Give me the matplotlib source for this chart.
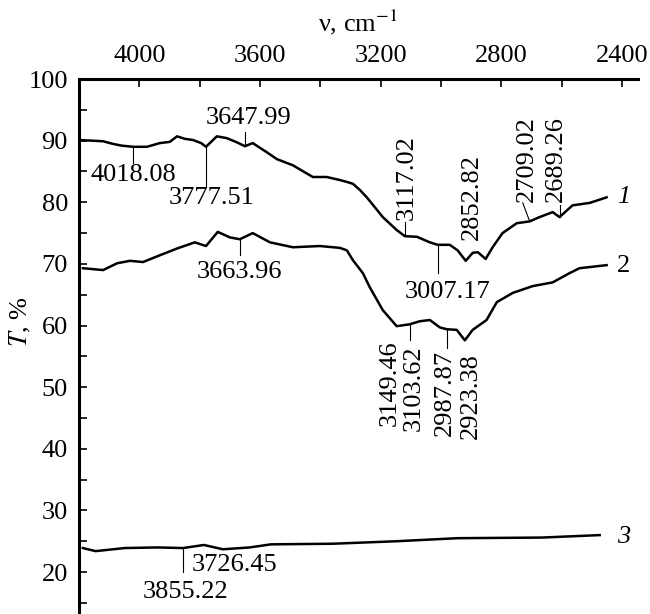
import numpy as np
import matplotlib
matplotlib.use('Agg')
import matplotlib.pyplot as plt
from matplotlib.ticker import MultipleLocator

plt.rcParams['font.family'] = ['Liberation Serif', 'DejaVu Serif']
plt.rcParams['mathtext.fontset'] = 'stix'

# curve 1
wn1 = [4197, 4160, 4120, 4090, 4060, 4021, 3975, 3932, 3899, 3875, 3850, 3822,
       3795, 3779, 3760, 3743, 3710, 3680, 3650, 3624, 3577, 3544, 3491, 3425,
       3379, 3335, 3312, 3292, 3269, 3246, 3193, 3147, 3120, 3080, 3037, 3011,
       2971, 2945, 2918, 2895, 2878, 2852, 2829, 2796, 2749, 2706, 2673, 2630,
       2607, 2564, 2507, 2451]
t1 = [90.1, 90.0, 89.9, 89.5, 89.2, 89.0, 89.0, 89.6, 89.8, 90.7, 90.3, 90.1,
      89.6, 89.0, 89.9, 90.7, 90.4, 89.8, 89.1, 89.6, 88.1, 87.0, 86.0, 84.1,
      84.1, 83.6, 83.3, 83.0, 82.0, 80.8, 77.6, 75.5, 74.5, 74.4, 73.5, 73.1,
      73.1, 72.2, 70.5, 71.8, 71.9, 70.8, 72.7, 75.0, 76.6, 76.9, 77.6, 78.4,
      77.6, 79.5, 79.9, 80.8]

# curve 2
wn2 = [4187, 4120, 4074, 4031, 3988, 3932, 3875, 3816, 3779, 3740, 3700, 3667,
       3624, 3567, 3491, 3402, 3335, 3312, 3292, 3259, 3236, 3193, 3147, 3104,
       3070, 3037, 3004, 2981, 2948, 2921, 2895, 2849, 2815, 2762, 2696, 2630,
       2574, 2541, 2451]
t2 = [69.3, 69.0, 70.1, 70.5, 70.3, 71.4, 72.5, 73.5, 72.9, 75.2, 74.3, 74.0,
      75.0, 73.5, 72.7, 72.9, 72.6, 72.2, 70.6, 68.5, 66.2, 62.5, 59.9, 60.2,
      60.7, 60.9, 59.7, 59.4, 59.3, 57.6, 59.3, 60.9, 63.8, 65.3, 66.4, 67.0,
      68.5, 69.3, 69.8]

# curve 3
wn3 = [4187, 4145, 4048, 3940, 3855, 3786, 3723, 3634, 3564, 3359, 3150, 2945,
       2666, 2474]
t3 = [23.9, 23.4, 23.9, 24.0, 23.9, 24.4, 23.7, 24.0, 24.5, 24.6, 25.0, 25.5,
      25.6, 26.0]

# peak labels: text, text x, text y, rotation, ha, va, leader (x0, y0, x1, y1)
peaks = [
    ('4018.08', 4021, 84.4, 0, 'center', 'center', (4021, 89.0, 4021, 86.4)),
    ('3777.51', 3759, 80.7, 0, 'center', 'center', (3779, 89.0, 3779, 82.5)),
    ('3647.99', 3637, 93.7, 0, 'center', 'center', (3650, 89.1, 3650, 91.4)),
    ('3117.02', 3114, 77.1, 90, 'center', 'bottom', (3120, 74.5, 3120, 76.8)),
    ('3007.17', 2978, 65.4, 0, 'center', 'center', (3011, 73.1, 3011, 68.5)),
    ('2852.82', 2898, 73.9, 90, 'center', 'bottom', None),
    ('2709.02', 2716, 80.0, 90, 'center', 'bottom', (2729, 79.9, 2706, 76.9)),
    ('2689.26', 2620, 80.0, 90, 'center', 'bottom', (2607, 79.5, 2607, 77.6)),
    ('3663.96', 3667, 68.7, 0, 'center', 'center', (3667, 74.0, 3667, 71.4)),
    ('3149.46', 3170, 57.6, 90, 'center', 'top', None),
    ('3103.62', 3090, 56.8, 90, 'center', 'top', (3104, 60.2, 3104, 57.6)),
    ('2987.87', 2988, 56.0, 90, 'center', 'top', (2981, 59.4, 2981, 56.3)),
    ('2923.38', 2902, 55.5, 90, 'center', 'top', None),
    ('3855.22', 3846, 16.7, 0, 'center', 'center', (3855, 23.9, 3855, 20.0)),
    ('3726.45', 3826, 21.1, 0, 'left', 'center', None),
]

fig = plt.figure(figsize=(6.5, 6.14), dpi=100)
ax = fig.add_axes([79 / 650, 0, 559 / 650, 535 / 614])

for wn, t in [(wn1, t1), (wn2, t2), (wn3, t3)]:
    ax.plot(wn, t, color='black', lw=1.8, solid_joinstyle='round')

for text, tx, ty, rot, ha, va, lead in peaks:
    if lead is not None:
        ax.plot([lead[0], lead[2]], [lead[1], lead[3]], color='black', lw=0.8)
    ax.text(tx, ty, text, rotation=rot, ha=ha, va=va, fontsize=19)

ax.text(2418, 80.9, '1', fontsize=19, style='italic', va='center', ha='left')
ax.text(2418, 69.6, '2', fontsize=19, va='center', ha='left')
ax.text(2418, 25.7, '3', fontsize=19, style='italic', va='center', ha='left')

ax.set_xlim(4200, 2347)
ax.set_ylim(13.2, 100)

ax.xaxis.tick_top()
ax.xaxis.set_major_locator(MultipleLocator(400))
ax.xaxis.set_minor_locator(MultipleLocator(200))
ax.yaxis.set_major_locator(MultipleLocator(10))
ax.yaxis.set_minor_locator(MultipleLocator(5))
ax.set_yticks(np.arange(20, 101, 10))
ax.tick_params(axis='both', which='both', direction='in', length=6, width=1.2,
               labelsize=19)
ax.tick_params(axis='x', which='both', pad=9)
ax.tick_params(axis='y', which='both', pad=8)

for s in ['right', 'bottom']:
    ax.spines[s].set_visible(False)
for s in ['left', 'top']:
    ax.spines[s].set_linewidth(2.2)

fig.text(358 / 650, 1 - 22 / 614, 'ν, cm$^{-1}$', fontsize=19, ha='center', va='center')
fig.text(20 / 650, 1 - 322 / 614, '$T$, %', fontsize=19, rotation=90,
         ha='center', va='center')

fig.savefig('out.png', dpi=100)
